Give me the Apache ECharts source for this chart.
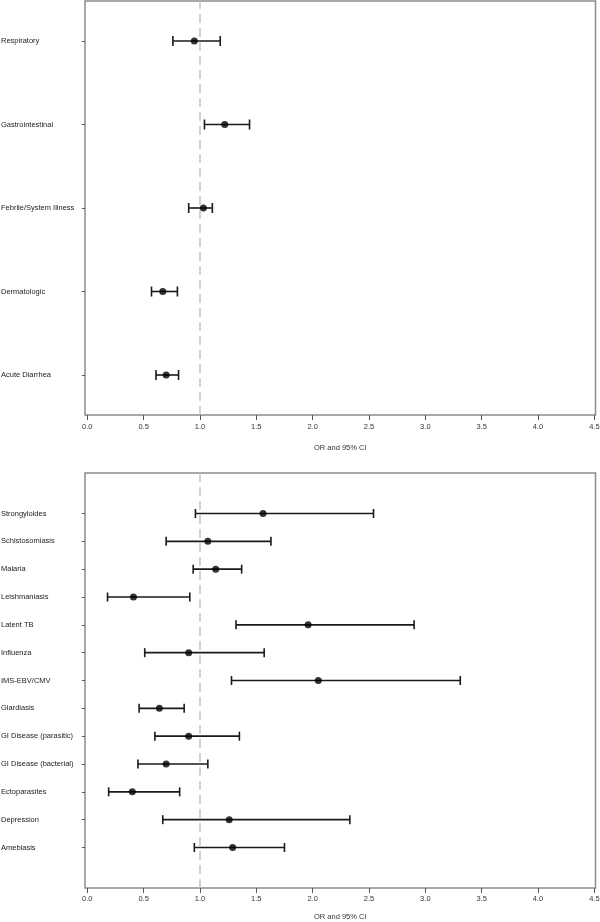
<!DOCTYPE html>
<html>
<head>
<meta charset="utf-8">
<script src="https://cdn.jsdelivr.net/npm/echarts@6/dist/echarts.min.js"></script>
<style>
html,body{margin:0;padding:0;background:#fff;}
#c{width:600px;height:922px;}
</style>
</head>
<body>
<div id="c"></div>
<script>
// ---- Data (top panel: syndromes) ----
var topCategories = ['Respiratory', 'Gastrointestinal', 'Febrile/System Illness', 'Dermatologic', 'Acute Diarrhea'];
var topOR   = [0.95, 1.22, 1.03, 0.67, 0.70];
var topLow  = [0.76, 1.04, 0.90, 0.57, 0.61];
var topHigh = [1.18, 1.44, 1.11, 0.80, 0.81];

// ---- Data (bottom panel: diagnoses) ----
var bottomCategories = ['Strongyloides', 'Schistosomiasis', 'Malaria', 'Leishmaniasis', 'Latent TB', 'Influenza',
  'IMS-EBV/CMV', 'Giardiasis', 'GI Disease (parasitic)', 'GI Disease (bacterial)', 'Ectoparasites', 'Depression', 'Amebiasis'];
var bottomOR   = [1.56, 1.07, 1.14, 0.41, 1.96, 0.90, 2.05, 0.64, 0.90, 0.70, 0.40, 1.26, 1.29];
var bottomLow  = [0.96, 0.70, 0.94, 0.18, 1.32, 0.51, 1.28, 0.46, 0.60, 0.45, 0.19, 0.67, 0.95];
var bottomHigh = [2.54, 1.63, 1.37, 0.91, 2.90, 1.57, 3.31, 0.86, 1.35, 1.07, 0.82, 2.33, 1.75];

var xTicks = [0, 0.5, 1, 1.5, 2, 2.5, 3, 3.5, 4, 4.5];
var xTitle = 'OR and 95% CI';
var refValue = 1;

var FONT = '"Liberation Sans", Arial, sans-serif';

function rowsFor(cats) {
  var n = cats.length;
  return cats.map(function (c, i) { return n - i; });
}

function buildPanel(idx, cats, or, low, high, capH) {
  var ys = rowsFor(cats);
  var n = cats.length;
  var nameMap = {};
  ys.forEach(function (y, i) { nameMap[y] = cats[i]; });
  var pad = idx === 0 ? 0.479 : 1.455;
  var xAxis = {
    gridIndex: idx, type: 'value', min: -0.02, max: 4.51,
    axisLine: { show: false, onZero: false },
    splitLine: { show: false },
    axisTick: { show: true, length: 5, customValues: xTicks, lineStyle: { color: '#555', width: 1 } },
    axisLabel: { customValues: xTicks, margin: idx === 0 ? 8 : 7, fontSize: 7.5, color: '#333', fontFamily: FONT,
      formatter: function (v) { return v.toFixed(1); } },
    name: xTitle, nameLocation: 'middle', nameGap: idx === 0 ? 29 : 25,
    nameTextStyle: { fontSize: 7.5, color: '#333', fontFamily: FONT }
  };
  var yAxis = {
    gridIndex: idx, type: 'value', min: 1 - pad, max: n + pad,
    axisLine: { show: false, onZero: false },
    splitLine: { show: false },
    axisTick: { show: true, length: 3, customValues: ys, lineStyle: { color: '#555', width: 1 } },
    axisLabel: { customValues: ys, align: 'left', margin: 84, fontSize: 7.5, color: '#222', fontFamily: FONT,
      formatter: function (v) { return nameMap[Math.round(v)] || ''; } }
  };
  var barData = ys.map(function (y, i) { return [low[i], high[i], y]; });
  var pointData = ys.map(function (y, i) { return [or[i], y]; });
  var series = [
    {
      type: 'custom', xAxisIndex: idx, yAxisIndex: idx, data: barData, silent: true,
      renderItem: function (params, api) {
        var a = api.coord([api.value(0), api.value(2)]);
        var b = api.coord([api.value(1), api.value(2)]);
        var style = { stroke: '#1a1a1a', lineWidth: 1.6 };
        return {
          type: 'group',
          children: [
            { type: 'line', shape: { x1: a[0], y1: a[1], x2: b[0], y2: b[1] }, style: style },
            { type: 'line', shape: { x1: a[0], y1: a[1] - capH / 2, x2: a[0], y2: a[1] + capH / 2 }, style: style },
            { type: 'line', shape: { x1: b[0], y1: b[1] - capH / 2, x2: b[0], y2: b[1] + capH / 2 }, style: style }
          ]
        };
      },
      z: 3
    },
    {
      type: 'scatter', xAxisIndex: idx, yAxisIndex: idx, data: pointData,
      symbol: 'circle', symbolSize: 7, itemStyle: { color: '#000' }, z: 4,
      markLine: {
        silent: true, symbol: 'none', label: { show: false },
        lineStyle: { type: [9, 5], color: '#c4c4c4', width: 1.5 },
        data: [{ xAxis: refValue }]
      }
    }
  ];
  return { xAxis: xAxis, yAxis: yAxis, series: series };
}

var p1 = buildPanel(0, topCategories, topOR, topLow, topHigh, 10);
var p2 = buildPanel(1, bottomCategories, bottomOR, bottomLow, bottomHigh, 9);

var chart = echarts.init(document.getElementById('c'), null, { renderer: 'canvas' });
chart.setOption({
  backgroundColor: '#fff',
  animation: false,
  grid: [
    { left: 85, right: 4.5, top: 1, height: 414, show: true, borderColor: '#8c8c8c', borderWidth: 1.5,
      backgroundColor: 'transparent', containLabel: false, outerBoundsMode: 'none' },
    { left: 85, right: 4.5, top: 473, height: 415, show: true, borderColor: '#8c8c8c', borderWidth: 1.5,
      backgroundColor: 'transparent', containLabel: false, outerBoundsMode: 'none' }
  ],
  xAxis: [p1.xAxis, p2.xAxis],
  yAxis: [p1.yAxis, p2.yAxis],
  series: p1.series.concat(p2.series)
});
</script>
</body>
</html>
